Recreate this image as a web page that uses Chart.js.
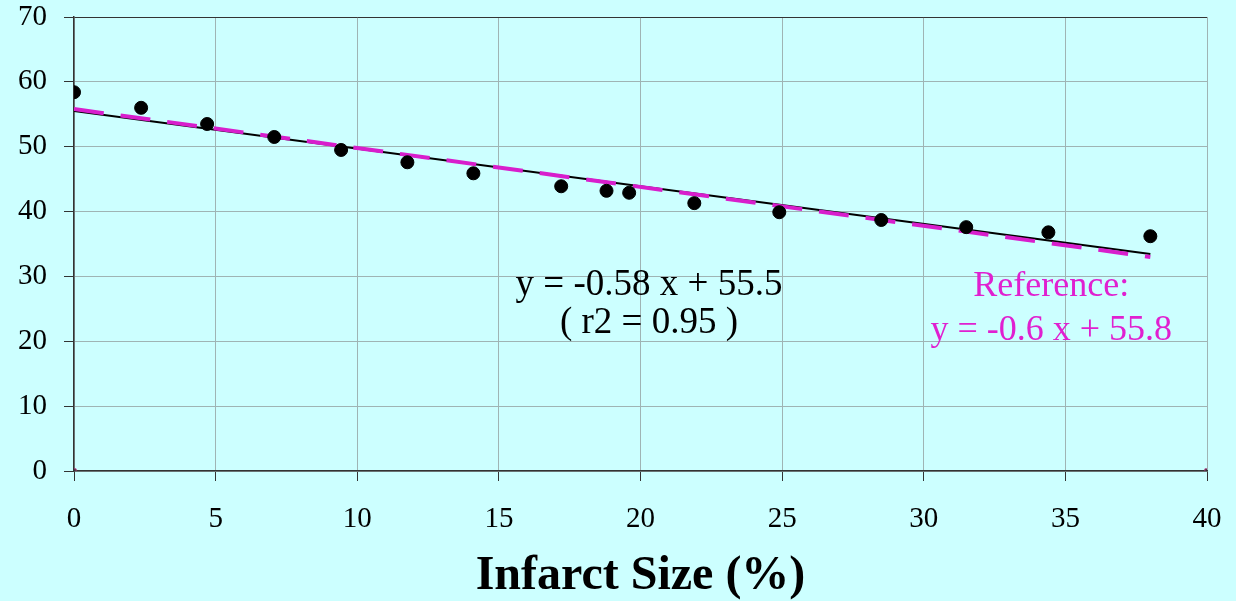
<!DOCTYPE html>
<html>
<head>
<meta charset="utf-8">
<script src="https://cdn.jsdelivr.net/npm/chart.js@4.4.1/dist/chart.umd.min.js"></script>
<style>
  html, body { margin: 0; padding: 0; background: #ccffff; }
  #wrap { width: 1236px; height: 601px; }
</style>
</head>
<body>
<div id="wrap"><canvas id="infarctChart" width="1236" height="601"></canvas></div>
<script>
// measured points (infarct size %, y value)
const infarctSize = [0, 2.37, 4.7, 7.07, 9.43, 11.77, 14.1, 17.2, 18.8, 19.6, 21.9, 24.9, 28.5, 31.5, 34.4, 38.0];
const measured = [58.4, 56.0, 53.5, 51.5, 49.5, 47.6, 45.9, 43.9, 43.2, 42.9, 41.3, 39.9, 38.7, 37.6, 36.8, 36.2];

// fitted line and reference line (slope, intercept), drawn over 0..38
const fitLine = { slope: -0.58, intercept: 55.5 };
const refLine = { slope: -0.6, intercept: 55.8 };
const lineRange = [0, 38];

// corner markers at the ends of the x axis
const cornerX = [0, 40];
const cornerY = [0, 0];

const xTicks = [0, 5, 10, 15, 20, 25, 30, 35, 40];
const yTicks = [0, 10, 20, 30, 40, 50, 60, 70];

const serif = '"Liberation Serif", "Times New Roman", serif';

const toLine = (l) => lineRange.map(x => ({ x: x, y: l.intercept + l.slope * x }));

const bgPlugin = {
  id: 'bg',
  beforeDraw(chart) {
    const ctx = chart.ctx;
    ctx.save();
    ctx.fillStyle = '#ccffff';
    ctx.fillRect(0, 0, chart.width, chart.height);
    ctx.restore();
  }
};

// equation labels
const notes = [
  { text: 'y = -0.58 x + 55.5', x: 20.3, y: 28.6, color: '#000000', size: 37 },
  { text: '( r2 = 0.95 )', x: 20.3, y: 22.8, color: '#000000', size: 37 },
  { text: 'Reference:', x: 34.5, y: 28.4, color: '#e020d0', size: 36 },
  { text: 'y = -0.6 x + 55.8', x: 34.5, y: 21.6, color: '#e020d0', size: 36 }
];

const notesPlugin = {
  id: 'notes',
  afterDatasetsDraw(chart) {
    const ctx = chart.ctx;
    const xs = chart.scales.x, ys = chart.scales.y;
    ctx.save();
    ctx.textAlign = 'center';
    ctx.textBaseline = 'middle';
    notes.forEach(n => {
      ctx.font = n.size + 'px ' + serif;
      ctx.fillStyle = n.color;
      ctx.fillText(n.text, xs.getPixelForValue(n.x), ys.getPixelForValue(n.y));
    });
    ctx.restore();
  }
};

new Chart(document.getElementById('infarctChart'), {
  type: 'scatter',
  data: {
    datasets: [
      {
        label: 'Measured',
        data: infarctSize.map((x, i) => ({ x: x, y: measured[i] })),
        backgroundColor: '#000000',
        borderColor: '#000000',
        pointRadius: 6.5,
        order: 0
      },
      {
        label: 'Reference',
        data: toLine(refLine),
        showLine: true,
        borderColor: '#d81ecc',
        borderWidth: 4,
        borderDash: [30, 17],
        pointRadius: 0,
        order: 1
      },
      {
        label: 'Fit',
        data: toLine(fitLine),
        showLine: true,
        borderColor: '#000000',
        borderWidth: 2,
        pointRadius: 0,
        order: 2
      },
      {
        label: 'Corners',
        data: cornerX.map((x, i) => ({ x: x, y: cornerY[i] })),
        pointStyle: 'rect',
        pointRadius: 3,
        backgroundColor: '#333333',
        borderColor: '#aa3377',
        borderWidth: 1,
        order: 0
      }
    ]
  },
  options: {
    responsive: false,
    animation: false,
    layout: { padding: { top: 17, right: 29, bottom: 0, left: 0 } },
    plugins: {
      legend: { display: false },
      tooltip: { enabled: false }
    },
    scales: {
      x: {
        type: 'linear',
        min: 0,
        max: 40,
        afterBuildTicks: (s) => { s.ticks = xTicks.map(v => ({ value: v })); },
        afterFit: (s) => { s.height = 130; s.paddingLeft = 0; s.paddingRight = 0; },
        border: { color: '#333333', width: 1.5 },
        grid: { color: '#9fb4b4', tickColor: '#333333', tickLength: 10, lineWidth: 1 },
        ticks: { color: '#000000', padding: 21, font: { family: serif, size: 29 } },
        title: {
          display: true,
          text: 'Infarct Size (%)',
          color: '#000000',
          font: { family: serif, size: 48, weight: 'bold' },
          padding: { top: 0, bottom: -4 }
        }
      },
      y: {
        min: 0,
        max: 70,
        afterBuildTicks: (s) => { s.ticks = yTicks.map(v => ({ value: v })); },
        afterFit: (s) => { s.width = 74; s.paddingTop = 0; s.paddingBottom = 0; },
        border: { color: '#333333', width: 1.5 },
        grid: {
          color: (c) => c.tick && c.tick.value === 70 ? '#333333' : '#9fb4b4',
          tickColor: '#333333',
          tickLength: 10,
          lineWidth: 1
        },
        ticks: { color: '#000000', padding: 17, font: { family: serif, size: 29 } }
      }
    }
  },
  plugins: [bgPlugin, notesPlugin]
});
</script>
</body>
</html>
